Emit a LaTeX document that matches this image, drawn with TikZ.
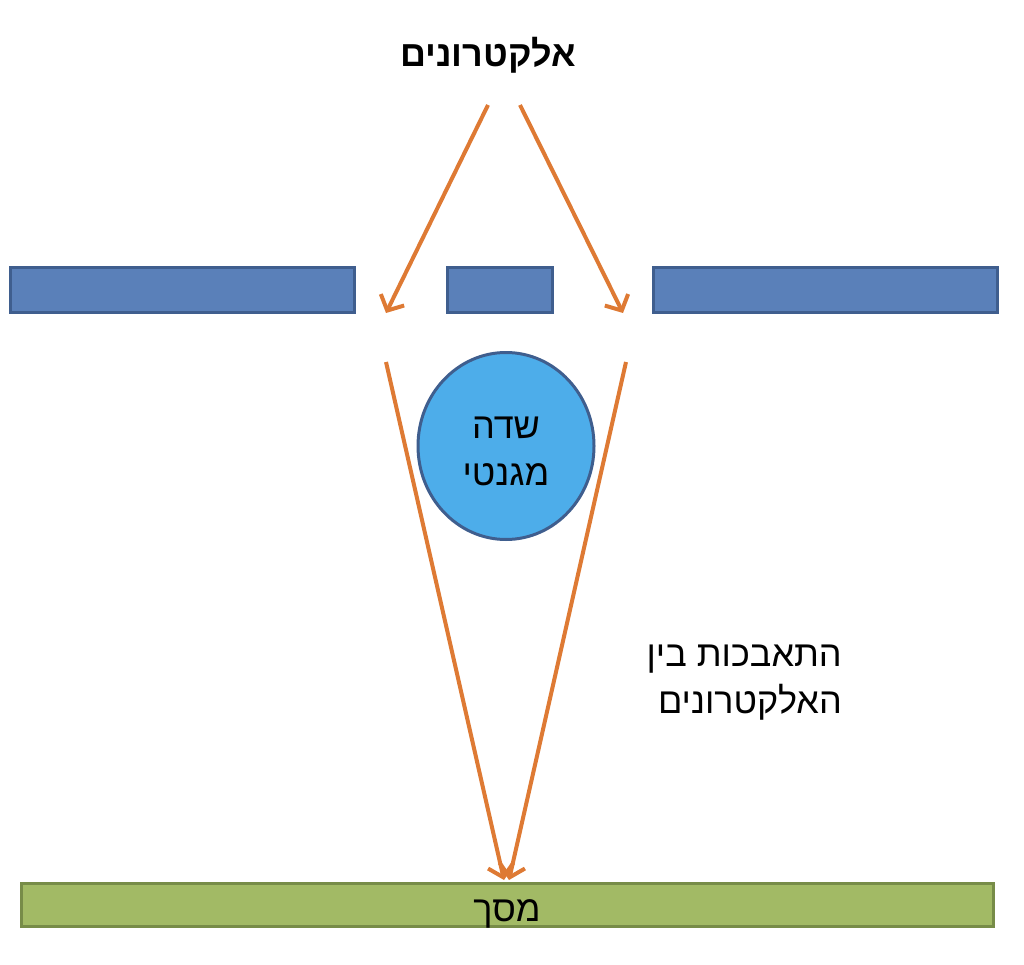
\documentclass[tikz,border=0pt]{standalone}
\usepackage{fontspec}
\setmainfont{Liberation Sans}
\newfontfamily\hebfont[Script=Hebrew]{Liberation Sans}
\TeXXeTstate=1
\usetikzlibrary{arrows.meta,shapes.geometric}
\definecolor{plateblue}{HTML}{5A80B9}
\definecolor{plateedge}{HTML}{3F5E8E}
\definecolor{fieldblue}{HTML}{4DADEA}
\definecolor{screengreen}{HTML}{A2BA65}
\definecolor{screenedge}{HTML}{778C48}
\definecolor{beamorange}{HTML}{DE7A34}
\newcommand{\heb}[1]% one right-to-left line
{{\hebfont\beginR #1\endR}}

\begin{document}
\begin{tikzpicture}[x=1pt,y=-1pt,
  plate/.style={draw=plateedge,fill=plateblue,line width=3.5pt,minimum height=45pt,inner sep=0pt},
  beam/.style={draw=beamorange,line width=4pt,-{Straight Barb[length=12pt,width=26pt]}},
  hebtext/.style={font=\fontsize{36}{47}\selectfont,inner sep=0pt}]
  \useasboundingbox (0,0) rectangle (1024,965);
  % slits
  \node[plate,minimum width=344pt] (plateL) at (182.5,290) {};
  \node[plate,minimum width=105pt] (plateM) at (500,290) {};
  \node[plate,minimum width=344pt] (plateR) at (825.5,290) {};
  % field and screen
  \node[ellipse,draw=plateedge,fill=fieldblue,line width=3pt,minimum width=176pt,minimum height=187pt]
        (field) at (506,446) {};
  \node[hebtext,align=center] (fieldlabel) at (506,451) {\heb{שדה}\\\heb{מגנטי}};
  \node[draw=screenedge,fill=screengreen,line width=3.5pt,minimum width=972pt,minimum height=43pt]
        (screen) at (507.5,905) {};
  \node[hebtext,anchor=base] (screenlabel) at (507,921) {\heb{מסך}};
  % labels
  \node[hebtext,font=\fontsize{36}{40}\selectfont\bfseries,anchor=base] (src) at (488,67) {\heb{אלקטרונים}};
  \node[hebtext,align=right,anchor=east] (interf) at (842,683) {\heb{התאבכות בין}\\\heb{האלקטרונים}};
  % beams
  \coordinate (inL) at (488,105);
  \coordinate (inR) at (520,105);
  \coordinate (slitL) at (386,313);
  \coordinate (slitR) at (623,313);
  \coordinate (outL) at (386,362);
  \coordinate (outR) at (626,362);
  \coordinate (hitL) at (504,880);
  \coordinate (hitR) at (509,880);
  \draw[beam] (inL) -- (slitL);
  \draw[beam] (inR) -- (slitR);
  \draw[beam] (outL) -- (hitL);
  \draw[beam] (outR) -- (hitR);
\end{tikzpicture}
\end{document}
